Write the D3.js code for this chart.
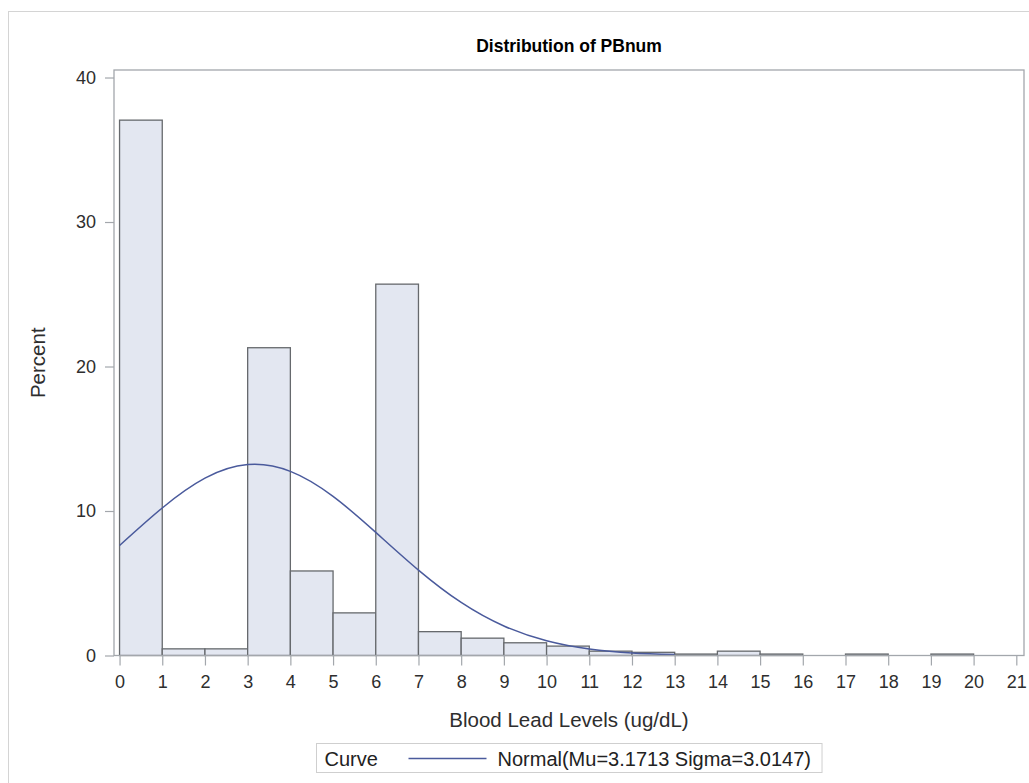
<!DOCTYPE html>
<html>
<head>
<meta charset="utf-8">
<script src="https://cdn.jsdelivr.net/npm/d3@7"></script>
<style>
  body { margin: 0; background: #fff; }
  text { font-family: "Liberation Sans", Arial, sans-serif; }
  .axis line { stroke: #a3a7ac; stroke-width: 1.2; }
  .axis text { fill: #2e2e2e; font-size: 18px; }
</style>
</head>
<body>
<div class="chart"></div>
<script>
// histogram bins (lower edge, percent)
const binStart = [0, 1, 2, 3, 4, 5, 6, 7, 8, 9, 10, 11, 12, 13, 14, 15, 16, 17, 18, 19, 20];
const binPercent = [37.05, 0.46, 0.46, 21.3, 5.85, 2.95, 25.7, 1.65, 1.2, 0.88, 0.65, 0.3, 0.22, 0.1, 0.3, 0.1, 0, 0.1, 0, 0.1, 0];

// fitted normal curve
const curveX = [0, 1, 2, 3, 4, 5, 6, 7, 8, 9, 10, 11, 12, 13];
const curveY = [7.61, 10.21, 12.27, 13.21, 12.74, 11.01, 8.52, 5.91, 3.67, 2.04, 1.02, 0.45, 0.18, 0.07];

const xTicks = d3.range(0, 22);
const yTicks = [0, 10, 20, 30, 40];

const title = 'Distribution of PBnum';
const xTitle = 'Blood Lead Levels (ug/dL)';
const yTitle = 'Percent';
const legendTitle = 'Curve';
const legendLabel = 'Normal(Mu=3.1713 Sigma=3.0147)';

// plot area
const margin = ({top: 70, right: 5, bottom: 127.5, left: 114});
const W = 1029, H = 783;
const width = W - margin.left - margin.right;
const height = H - margin.top - margin.bottom;

const root = d3.select('.chart')
  .append('svg')
  .attr('width', W)
  .attr('height', H);

// outer border
root.append('rect')
  .attr('x', 8.5).attr('y', 11.5)
  .attr('width', 1040).attr('height', 800)
  .attr('fill', 'none')
  .attr('stroke', '#d4d4d4');

const svg = root.append('g')
  .attr('transform', 'translate(' + margin.left + ',' + margin.top + ')');

const xScale = d3.scaleLinear()
  .domain([-0.13, 21.18])
  .range([0, width]);

const yScale = d3.scaleLinear()
  .domain([0, 40.52])
  .range([height, 0]);

// bars
const bins = binStart.map((s, i) => ({x0: s, x1: s + 1, pct: binPercent[i]}))
  .filter(d => d.pct > 0);

svg.selectAll('rect.bar')
  .data(bins)
  .enter()
  .append('rect')
  .attr('class', 'bar')
  .attr('x', d => xScale(d.x0))
  .attr('y', d => yScale(d.pct))
  .attr('width', d => xScale(d.x1) - xScale(d.x0))
  .attr('height', d => yScale(0) - yScale(d.pct))
  .attr('fill', '#e3e7f1')
  .attr('stroke', '#66696d')
  .attr('stroke-width', 1.3);

// normal curve
const line = d3.line()
  .x((d, i) => xScale(curveX[i]))
  .y(d => yScale(d))
  .curve(d3.curveNatural);

svg.append('path')
  .datum(curveY)
  .attr('d', line)
  .attr('fill', 'none')
  .attr('stroke', '#4a5a9c')
  .attr('stroke-width', 1.5);

// frame
svg.append('rect')
  .attr('x', 0).attr('y', 0)
  .attr('width', width).attr('height', height)
  .attr('fill', 'none')
  .attr('stroke', '#a3a7ac')
  .attr('stroke-width', 1.3);

// axes
const xAxis = d3.axisBottom(xScale)
  .tickValues(xTicks)
  .tickFormat(d3.format('d'))
  .tickSizeInner(10)
  .tickSizeOuter(0)
  .tickPadding(10);

const yAxis = d3.axisLeft(yScale)
  .tickValues(yTicks)
  .tickSizeInner(9)
  .tickSizeOuter(0)
  .tickPadding(9);

svg.append('g')
  .attr('class', 'axis x-axis')
  .attr('transform', `translate(0, ${height})`)
  .call(xAxis);

svg.append('g')
  .attr('class', 'axis y-axis')
  .call(yAxis);

svg.selectAll('.axis .domain').remove();

// titles
root.append('text')
  .attr('x', margin.left + width / 2)
  .attr('y', 52)
  .attr('text-anchor', 'middle')
  .attr('font-size', 17.5)
  .attr('font-weight', 'bold')
  .attr('fill', '#000')
  .text(title);

root.append('text')
  .attr('x', margin.left + width / 2)
  .attr('y', 727)
  .attr('text-anchor', 'middle')
  .attr('font-size', 20.5)
  .attr('fill', '#2e2e2e')
  .text(xTitle);

root.append('text')
  .attr('transform', `translate(45, ${margin.top + height / 2}) rotate(-90)`)
  .attr('text-anchor', 'middle')
  .attr('font-size', 20.5)
  .attr('fill', '#2e2e2e')
  .text(yTitle);

// legend
const legend = root.append('g');
const lgBox = legend.append('rect')
  .attr('y', 743.5).attr('height', 29)
  .attr('fill', '#fff')
  .attr('stroke', '#cfcfcf');

legend.append('text')
  .attr('x', 8).attr('y', 766)
  .attr('font-size', 20).attr('fill', '#222')
  .text(legendTitle);

legend.append('line')
  .attr('x1', 92).attr('x2', 170)
  .attr('y1', 758.5).attr('y2', 758.5)
  .attr('stroke', '#4a5a9c').attr('stroke-width', 1.5);

const lgText = legend.append('text')
  .attr('x', 181).attr('y', 766)
  .attr('font-size', 20).attr('fill', '#222')
  .text(legendLabel);

const lgW = 181 + lgText.node().getComputedTextLength() + 11;
lgBox.attr('x', 0).attr('width', lgW);
legend.attr('transform', `translate(${Math.round(margin.left + width / 2 - lgW / 2) + 0.5}, 0)`);
</script>
</body>
</html>
